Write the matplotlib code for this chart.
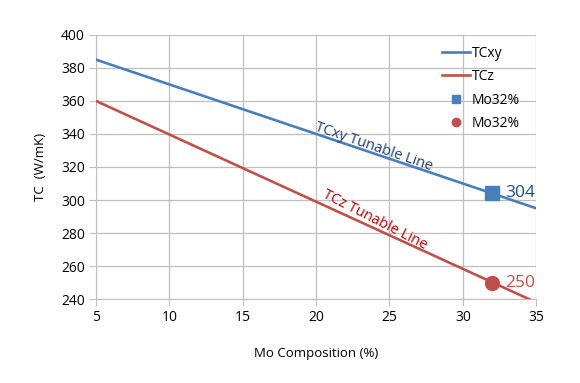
import numpy as np
import matplotlib.pyplot as plt

# data
mo = [5, 35]
tc_xy = [385, 295]
tc_z = [360, 238]
mo_pick = [32]
tc_xy_pick = [304]
tc_z_pick = [250]

blue = '#4a7ebb'
red = '#c0504d'
grid_c = '#bfbfbf'

plt.rcParams['font.family'] = ['Open Sans', 'DejaVu Sans']
plt.rcParams['font.size'] = 10

fig = plt.figure(figsize=(5.8, 3.83), dpi=100)
ax = fig.add_axes([0.1655, 0.219, 0.759, 0.69])

ax.plot(mo, tc_xy, color=blue, lw=1.9, label='TCxy', zorder=3)
ax.plot(mo, tc_z, color=red, lw=1.9, label='TCz', zorder=3)
ax.plot(mo_pick, tc_xy_pick, 's', color=blue, ms=10, label='Mo32%', zorder=4)
ax.plot(mo_pick, tc_z_pick, 'o', color=red, ms=10, label='Mo32%', zorder=4)

ax.set_xlim(5, 35)
ax.set_ylim(240, 400)
ax.set_xticks(np.arange(5, 36, 5))
ax.set_yticks(np.arange(240, 401, 20))
ax.grid(True, color=grid_c, lw=0.9)
ax.set_axisbelow(True)
for s in ['top', 'right']:
    ax.spines[s].set_visible(False)
for s in ['left', 'bottom']:
    ax.spines[s].set_color(grid_c)
ax.tick_params(direction='out', length=5, color=grid_c, labelsize=10, pad=3)

ax.set_xlabel('Mo Composition (%)', fontsize=9.5, labelpad=16)
ax.set_ylabel('TC  (W/mK)', fontsize=9.5, labelpad=10)

ax.text(mo_pick[0] + 0.9, tc_xy_pick[0], '304', color='#1f4e8c', fontsize=12.5,
        va='center', ha='left')
ax.text(mo_pick[0] + 0.9, tc_z_pick[0], '250', color=red, fontsize=12.5,
        va='center', ha='left')

ax.text(23.9, 332, 'TCxy Tunable Line', color='#1f3f6e', fontsize=10.5,
        rotation=-19, ha='center', va='center', rotation_mode='anchor')
ax.text(24.0, 288, 'TCz Tunable Line', color='#c00000', fontsize=10.5,
        rotation=-27, ha='center', va='center', rotation_mode='anchor')

ax.legend(loc='upper left', bbox_to_anchor=(0.786, 0.958), frameon=False,
          borderaxespad=0, borderpad=0,
          markerscale=0.6, handlelength=2.0, handletextpad=0.15,
          labelspacing=0.6, fontsize=10)

fig.savefig('out.png', dpi=100)
